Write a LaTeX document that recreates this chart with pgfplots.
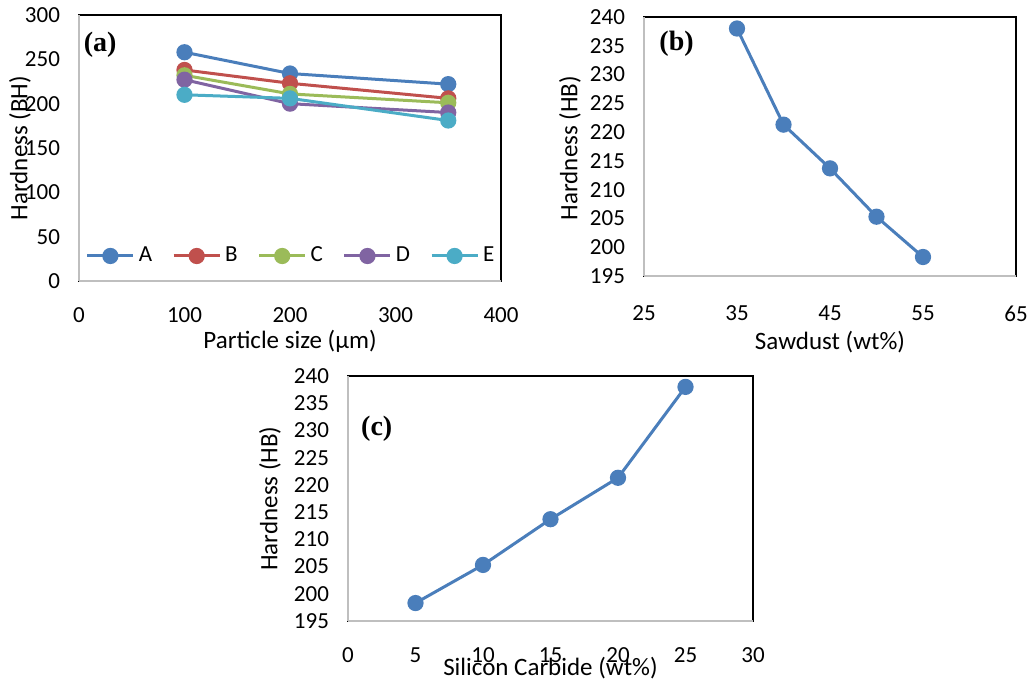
\documentclass[border=0pt]{standalone}
\usepackage{fontspec}
\setmainfont{Carlito}
\newfontfamily\panelfont{Liberation Serif}
\usepackage{pgfplots}
\pgfplotsset{compat=1.18}

\definecolor{sA}{HTML}{4A7EBB}
\definecolor{sB}{HTML}{C0504D}
\definecolor{sC}{HTML}{9BBB59}
\definecolor{sD}{HTML}{8064A2}
\definecolor{sE}{HTML}{4BACC6}
\definecolor{axgray}{HTML}{BFBFBF}

\pgfplotsset{
  panel/.style={
    scale only axis,
    anchor=south west,
    axis lines=left,
    axis line style={-, draw=axgray, line width=1pt},
    axis background/.style={draw=black, line width=0.8pt},
    major tick length=0pt,
    tick label style={font=\fontsize{11.5}{13}\selectfont},
    label style={font=\fontsize{12.5}{14}\selectfont},
    /pgf/number format/assume math mode=true,
    xticklabel shift=10pt,
    yticklabel shift=6pt,
    clip=false,
  },
  ser/.style={color=#1, line width=1.5pt, mark=*, mark size=3.3pt,
    mark options={fill=#1, draw=#1}},
}

\begin{document}
\begin{tikzpicture}
\useasboundingbox (0,0) rectangle (516.5pt,-341.5pt);

% (a)
\begin{axis}[panel,
  at={(39.5pt,-140.5pt)}, width=211pt, height=133pt,
  xmin=0, xmax=400, ymin=0, ymax=300,
  xtick={0,100,200,300,400}, ytick={0,50,100,150,200,250,300},
  xlabel={Particle size (µm)}, ylabel={Hardness (BH)},
  x label style={at={(axis description cs:0.5,-0.226)}, anchor=center},
  y label style={at={(axis description cs:-0.14,0.5)}, anchor=center, rotate=0},
  legend columns=5,
  legend style={draw=none, fill=none, at={(axis description cs:0.505,0.094)}, anchor=center,
    font=\fontsize{11.5}{13}\selectfont,
    /tikz/every even column/.append style={column sep=8pt}},
  legend image code/.code={\draw[#1, mark repeat=2, mark phase=2]
    plot coordinates {(0pt,0pt) (11.5pt,0pt) (23pt,0pt)};},
]
\addplot[ser=sA] coordinates {(100,258) (200,234) (350,222)};
\addplot[ser=sB] coordinates {(100,238) (200,223) (350,206)};
\addplot[ser=sC] coordinates {(100,232) (200,211) (350,201)};
\addplot[ser=sD] coordinates {(100,227) (200,200) (350,190)};
\addplot[ser=sE] coordinates {(100,210) (200,206) (350,181)};
\legend{A,B,C,D,E}
\node[font=\panelfont\bfseries\fontsize{14}{16}\selectfont] at (axis cs:20,266) {(a)};
\end{axis}

% (b)
\begin{axis}[panel,
  at={(322pt,-138pt)}, width=186pt, height=129.5pt,
  xmin=25, xmax=65, ymin=195, ymax=240,
  xtick={25,35,45,55,65}, ytick={195,200,...,240},
  xticklabel shift=11.5pt,
  xlabel={Sawdust (wt\%)}, ylabel={Hardness (HB)},
  x label style={at={(axis description cs:0.5,-0.254)}, anchor=center},
  y label style={at={(axis description cs:-0.199,0.494)}, anchor=center},
]
\addplot[ser=sA] coordinates {(35,238) (40,221.3) (45,213.7) (50,205.3) (55,198.3)};
\node[font=\panelfont\bfseries\fontsize{14}{16}\selectfont] at (axis cs:28.5,235.4) {(b)};
\end{axis}

% (c)
\begin{axis}[panel,
  at={(174pt,-310.5pt)}, width=202.5pt, height=122.5pt,
  xmin=0, xmax=30, ymin=195, ymax=240,
  xtick={0,5,...,30}, ytick={195,200,...,240},
  xlabel={Silicon Carbide (wt\%)}, ylabel={Hardness (HB)},
  x label style={at={(axis description cs:0.5,-0.192)}, anchor=center},
  y label style={at={(axis description cs:-0.193,0.5)}, anchor=center},
]
\addplot[ser=sA] coordinates {(5,198.3) (10,205.3) (15,213.7) (20,221.3) (25,238)};
\node[font=\panelfont\bfseries\fontsize{14}{16}\selectfont] at (axis cs:2.13,230.4) {(c)};
\end{axis}
\end{tikzpicture}
\end{document}
